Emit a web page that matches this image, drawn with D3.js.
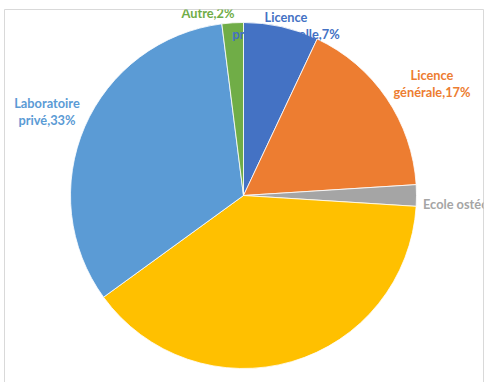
<!DOCTYPE html>
<html>
<head>
<meta charset="utf-8">
<script src="https://cdn.jsdelivr.net/npm/d3@7"></script>
<style>
  body { margin: 0; background: #fff; }
  svg { display: block; }
  .lbl { font-family: Lato, "Open Sans", sans-serif; font-weight: bold; font-size: 12.8px; }
</style>
</head>
<body>
<div class="visHolder"></div>
<script>
"use strict"

// data, clockwise from 12 o'clock
var categories = ['Licence professionnelle', 'Licence générale', 'Ecole ostéopathie', '', 'Laboratoire privé', 'Autre'];
var percents = [7, 17, 2, 39, 33, 2];
var labelLines = [
  ['Licence', 'professionnelle,7%'],
  ['Licence', 'générale,17%'],
  ['Ecole ostéopathie,2%'],
  [],
  ['Laboratoire', 'privé,33%'],
  ['Autre,2%']
];

var colors = ['#4472C4', '#ED7D31', '#A5A5A5', '#FFC000', '#5B9BD5', '#70AD47'];

var width = 489,
  height = 391,
  cx = 243.5,
  cy = 195.5,
  radius = 173;

// label anchor spots (Excel "best fit" placement), relative to page
var labelLayout = [
  { x: 286, y: 17, anchor: 'middle' },
  { x: 432, y: 75, anchor: 'middle' },
  { x: 423, y: 204, anchor: 'start' },
  null,
  { x: 47, y: 103, anchor: 'middle' },
  { x: 208, y: 13, anchor: 'middle' }
];
var lineStep = 17;

var svg = d3.select('.visHolder')
  .append('svg')
  .attr('width', width)
  .attr('height', height);

// frame of the chart area (the plot is cut at its right edge, like the original)
svg.append('clipPath')
  .attr('id', 'plotClip')
  .append('rect')
  .attr('x', 4.5).attr('y', 9.5)
  .attr('width', 479).attr('height', 400);

svg.append('path')
  .attr('d', 'M4.5,382 V9.5 H483.5 V382')
  .attr('fill', 'none')
  .attr('stroke', '#d9d9d9')
  .attr('stroke-width', 1);

var pie = d3.pie()
  .sort(null)
  .value(d => d);

var arc = d3.arc()
  .innerRadius(0)
  .outerRadius(radius);

var slices = pie(percents);

svg.append('g')
  .attr('transform', 'translate(' + cx + ',' + cy + ')')
  .selectAll('path')
  .data(slices)
  .enter()
  .append('path')
  .attr('d', arc)
  .attr('fill', (d, i) => colors[i])
  .attr('stroke', '#fff')
  .attr('stroke-width', 0.8);

var labels = svg.append('g')
  .attr('clip-path', 'url(#plotClip)');

labelLines.forEach(function (lines, i) {
  var pos = labelLayout[i];
  if (!pos || lines.length === 0) return;
  var t = labels.append('text')
    .attr('class', 'lbl')
    .attr('fill', colors[i])
    .attr('text-anchor', pos.anchor)
    .attr('dominant-baseline', 'central');
  lines.forEach(function (line, j) {
    t.append('tspan')
      .attr('x', pos.x)
      .attr('y', pos.y + j * lineStep)
      .text(line);
  });
});
</script>
</body>
</html>
